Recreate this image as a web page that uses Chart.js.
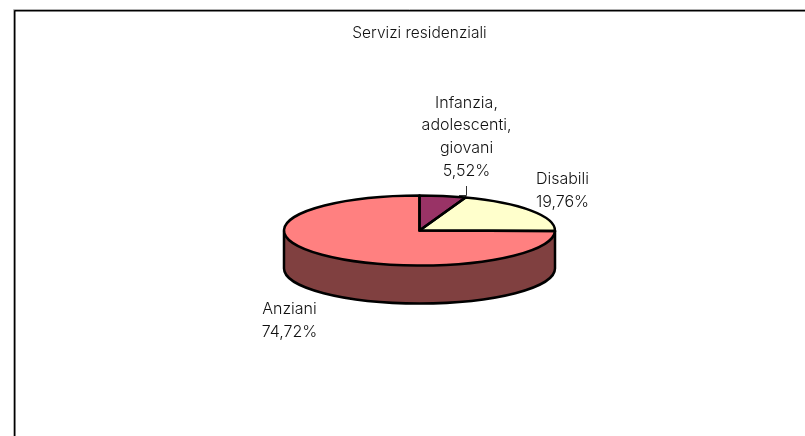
<!DOCTYPE html>
<html>
<head>
<meta charset="utf-8">
<style>
html,body{margin:0;padding:0;background:#fff;}
#wrap{position:relative;width:805px;height:436px;overflow:hidden;}
canvas{display:block;}
</style>
<script src="https://cdn.jsdelivr.net/npm/chart.js@4"></script>
</head>
<body>
<div id="wrap"><canvas id="c" width="805" height="436"></canvas></div>
<script>
const titleText = "Servizi residenziali";
const categories = ["Infanzia, adolescenti, giovani", "Disabili", "Anziani"];
const labelLines = [["Infanzia,", "adolescenti,", "giovani", "5,52%"], ["Disabili", "19,76%"], ["Anziani", "74,72%"]];
const values = [5.52, 19.76, 74.72];
const colors = ["#993366", "#FFFFCC", "#FF8080"];
const sideColors = ["#4D1933", "#808066", "#804040"];

const FONT = 'Inter, sans-serif';
const TITLE_SIZE = 15.5;
const FONT_SIZE = 16;
const FONT_WEIGHT = 300;
const TEXT_COLOR = '#111';
const LINE_H = 22.7;
const OUTLINE = 2.5;
const SQUASH = 35 / 135.5;
const DEPTH = 38;
const labelCenters = [[466.5, 137], [562.5, 190.5], [289.5, 321]];

function arcsOf(chart){ return chart.getDatasetMeta(0).data; }

const pie3d = {
  id: 'pie3d',
  beforeDatasetsDraw(chart){
    const ctx = chart.ctx;
    const arcs = arcsOf(chart);
    const a0 = arcs[0];
    const cx = a0.x, cy = a0.y, R = a0.outerRadius, ry = R * SQUASH;
    arcs.forEach((a, i) => {
      [[a.startAngle, a.endAngle], [a.startAngle - 2*Math.PI, a.endAngle - 2*Math.PI]].forEach(([st, en]) => {
        const b = Math.max(st, 0), f = Math.min(en, Math.PI);
        if (f <= b) return;
        ctx.beginPath();
        ctx.ellipse(cx, cy, R, ry, 0, b, f);
        ctx.ellipse(cx, cy + DEPTH, R, ry, 0, f, b, true);
        ctx.closePath();
        ctx.fillStyle = sideColors[i];
        ctx.fill();
      });
    });
    ctx.save();
    ctx.strokeStyle = '#000';
    ctx.lineWidth = OUTLINE;
    ctx.lineJoin = 'round';
    ctx.beginPath();
    ctx.moveTo(cx - R, cy);
    ctx.lineTo(cx - R, cy + DEPTH);
    ctx.ellipse(cx, cy + DEPTH, R, ry, 0, Math.PI, 0, true);
    ctx.lineTo(cx + R, cy);
    ctx.stroke();
    ctx.restore();
    ctx.save();
    ctx.translate(cx, cy);
    ctx.scale(1, SQUASH);
    ctx.translate(-cx, -cy);
  },
  afterDatasetsDraw(chart){
    const ctx = chart.ctx;
    ctx.restore();
    const arcs = arcsOf(chart);
    const a0 = arcs[0];
    const cx = a0.x, cy = a0.y, R = a0.outerRadius, ry = R * SQUASH;
    ctx.save();
    ctx.strokeStyle = '#000';
    ctx.lineWidth = OUTLINE;
    ctx.lineJoin = 'round';
    arcs.forEach(a => {
      ctx.beginPath();
      ctx.moveTo(cx, cy);
      ctx.ellipse(cx, cy, R, ry, 0, a.startAngle, a.endAngle);
      ctx.closePath();
      ctx.stroke();
    });
    // frame
    ctx.lineWidth = 1;
    ctx.strokeStyle = '#b0b0b0';
    ctx.beginPath(); ctx.moveTo(13.5, 436); ctx.lineTo(13.5, 9.5); ctx.lineTo(805, 9.5); ctx.stroke();
    ctx.lineWidth = 1.5;
    ctx.strokeStyle = '#000';
    ctx.beginPath(); ctx.moveTo(14.75, 436); ctx.lineTo(14.75, 10.75); ctx.lineTo(805, 10.75); ctx.stroke();
    // leader line
    ctx.lineWidth = 1;
    ctx.strokeStyle = '#333';
    ctx.beginPath(); ctx.moveTo(466.5, 186); ctx.lineTo(466.5, 195.5); ctx.lineTo(459, 195.5); ctx.stroke();
    // labels
    ctx.fillStyle = TEXT_COLOR;
    ctx.font = FONT_WEIGHT + ' ' + FONT_SIZE + 'px ' + FONT;
    ctx.textAlign = 'center';
    ctx.textBaseline = 'middle';
    labelLines.forEach((lines, i) => {
      const [lx, ly] = labelCenters[i];
      lines.forEach((t, k) => ctx.fillText(t, lx, ly + (k - (lines.length - 1) / 2) * LINE_H));
    });
    ctx.restore();
  }
};

new Chart(document.getElementById('c'), {
  type: 'pie',
  data: {
    labels: categories,
    datasets: [{ data: values, backgroundColor: colors, borderWidth: 0 }]
  },
  options: {
    responsive: false,
    animation: false,
    layout: { padding: { left: 34, right: 0, top: 24, bottom: 70 } },
    plugins: {
      legend: { display: false },
      tooltip: { enabled: false },
      title: {
        display: true,
        text: titleText,
        color: TEXT_COLOR,
        font: { family: FONT, size: TITLE_SIZE, weight: FONT_WEIGHT, lineHeight: 1.2 },
        padding: { top: 0, bottom: 52.4 }
      }
    }
  },
  plugins: [pie3d]
});
</script>
</body>
</html>
